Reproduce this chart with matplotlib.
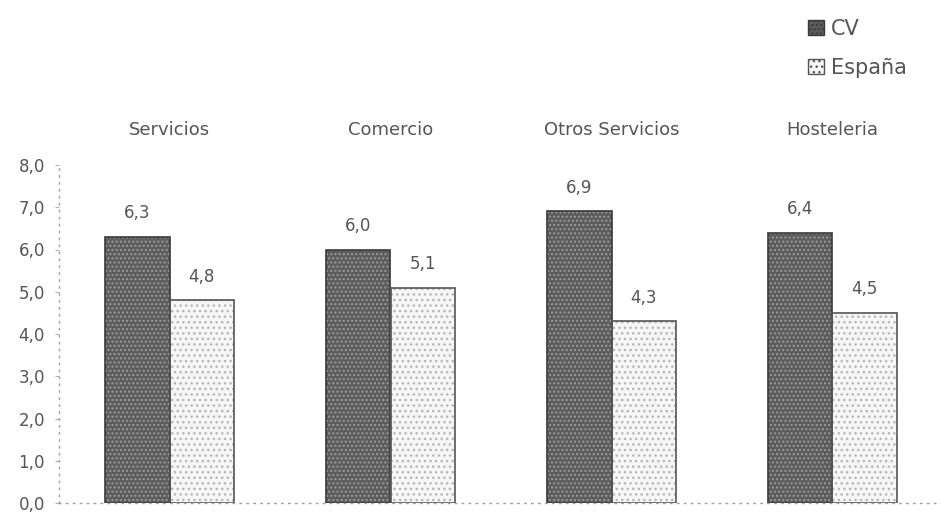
import numpy as np
import matplotlib.pyplot as plt
from matplotlib.patches import Patch

plt.rcParams['font.family'] = ['DejaVu Sans']

categories = ['Servicios', 'Comercio', 'Otros Servicios', 'Hosteleria']
cv = [6.3, 6.0, 6.9, 6.4]
espana = [4.8, 5.1, 4.3, 4.5]
yticks = [0, 1, 2, 3, 4, 5, 6, 7, 8]

text_color = '#555555'


def fmt(v):
    return f'{v:.1f}'.replace('.', ',')


fig = plt.figure(figsize=(9.41, 5.13), dpi=100)
ax = fig.add_axes([59 / 941, 10 / 513, 884 / 941, 338 / 513])

x = np.arange(len(categories))
w = 0.292

# textured fill first, then a plain outline on top
ax.bar(x - w / 2, cv, w, color='#5c5c5c', hatch='....', edgecolor='#9a9a9a', linewidth=0)
ax.bar(x + w / 2, espana, w, color='#f6f6f6', hatch='...', edgecolor='#b5b5b5', linewidth=0)
ax.bar(x - w / 2, cv, w, fill=False, edgecolor='#3a3a3a', linewidth=1.2)
ax.bar(x + w / 2, espana, w, fill=False, edgecolor='#555555', linewidth=1.2)

for i in range(len(categories)):
    ax.annotate(fmt(cv[i]), (x[i] - w / 2, cv[i]), xytext=(0, 10.5),
                textcoords='offset points', ha='center', va='bottom',
                fontsize=12, color=text_color)
    ax.annotate(fmt(espana[i]), (x[i] + w / 2, espana[i]), xytext=(0, 10.5),
                textcoords='offset points', ha='center', va='bottom',
                fontsize=12, color=text_color)
    ax.text(x[i], 8.82, categories[i], ha='center', va='center',
            fontsize=13, color=text_color, clip_on=False)

ax.set_xlim(-0.5, len(categories) - 0.5)
ax.set_ylim(0, 8)
ax.set_yticks(yticks)
ax.set_yticklabels([fmt(t) for t in yticks], fontsize=12, color=text_color)
ax.set_xticks([])
ax.tick_params(axis='y', length=3, width=0.8, color='#b0b0b0', pad=7)

for side in ['top', 'right']:
    ax.spines[side].set_visible(False)
for side in ['left', 'bottom']:
    ax.spines[side].set_linestyle((0, (1, 4)))
    ax.spines[side].set_color('#a0a0a0')
    ax.spines[side].set_linewidth(1.0)

handles = [Patch(facecolor='#5c5c5c', hatch='....', edgecolor='#3a3a3a', label='CV'),
           Patch(facecolor='#f6f6f6', hatch='...', edgecolor='#555555', label='España')]
fig.legend(handles=handles, loc='upper left', bbox_to_anchor=(808 / 941, 1 - 19 / 513),
           frameon=False, fontsize=15, handlelength=0.75, handleheight=0.75,
           handletextpad=0.35, labelspacing=0.9, labelcolor=text_color, borderaxespad=0,
           borderpad=0)

fig.savefig('out.png', dpi=100)
